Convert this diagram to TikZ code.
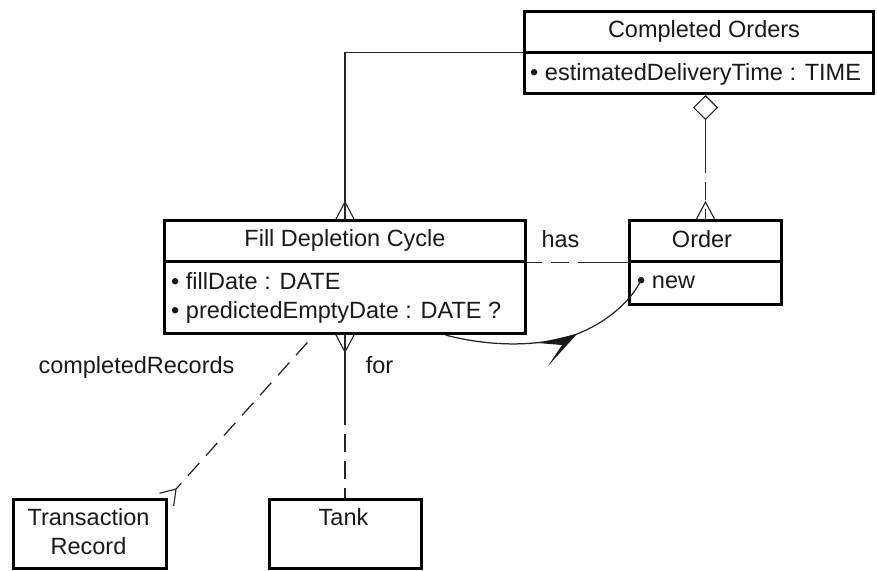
\documentclass[tikz,border=0pt]{standalone}
\usepackage{fontspec}
\setmainfont{Liberation Sans}
\usetikzlibrary{calc,shapes.geometric}
\begin{document}
\begin{tikzpicture}[x=1pt,y=-1pt,
  box/.style={draw=black, line width=3pt, fill=white, inner sep=0pt, anchor=north west},
  rule/.style={line width=3pt, draw=black},
  txt/.style={font=\fontsize{23.5}{29}\selectfont, inner sep=0pt, text=black!90},
  conn/.style={line width=1.25pt, draw=black!85},
  dashpart/.style={conn, dash pattern=on 18pt off 9pt, dash phase=18pt},
  foot/.style={line width=1.15pt, draw=black!85},
  crowfoot/.pic={\draw[foot] (-9,0) -- (0,-17) -- (9,0);},
]
\useasboundingbox (0,0) rectangle (877,570);

% class boxes
\node[box, minimum width=349pt, minimum height=82pt] (co) at (523,10) {};
\node[box, minimum width=361pt, minimum height=113pt] (fdc) at (163,219) {};
\node[box, minimum width=152pt, minimum height=84pt] (ord) at (628,219) {};
\node[box, minimum width=153pt, minimum height=69pt] (trans) at (12,498) {};
\node[box, minimum width=152pt, minimum height=69pt] (tank) at (267.5,498) {};

% compartment rules
\draw[rule] ($(co.north west)+(0,42)$) -- ($(co.north east)+(0,42)$);
\draw[rule] ($(fdc.north west)+(0,42)$) -- ($(fdc.north east)+(0,42)$);
\draw[rule] ($(ord.north west)+(0,42)$) -- ($(ord.north east)+(0,42)$);

% box texts
\node[txt, anchor=base] (coT) at (704,37) {Completed Orders};
\node[txt, anchor=base west] (coA) at (530,80) {• estimatedDeliveryTime : TIME};
\node[txt, anchor=base] (fdcT) at (345,246) {Fill Depletion Cycle};
\node[txt, anchor=base west] (fdcA) at (171,289) {• fillDate : DATE};
\node[txt, anchor=base west] (fdcB) at (171,318) {• predictedEmptyDate : DATE ?};
\node[txt, anchor=base] (ordT) at (702,247) {Order};
\node[txt, anchor=base west] (newA) at (637,288) {• new};
\node[txt, anchor=base, align=center] (transT) at (88.5,554) {Transaction\\Record};
\node[txt, anchor=base] (tankT) at (343.5,525) {Tank};

% Completed Orders -- Fill Depletion Cycle
\draw[conn] (co.west) -| (fdc.north);
\pic at (fdc.north) {crowfoot};

% aggregation: Completed Orders -- Order
\node[draw=black!85, line width=1.15pt, diamond, fill=white, minimum width=24pt,
      minimum height=24pt, inner sep=0pt, anchor=north] (agg) at (ord.north |- co.south) {};
\coordinate (m1) at ($(agg.south)!0.534!(ord.north)$);
\draw[conn] (agg.south) -- (m1);
\draw[dashpart] (m1) -- (ord.north);
\pic at (ord.north) {crowfoot};

% has
\coordinate (m2) at ($(ord.west)!0.5!(ord.west -| fdc.east)$);
\draw[conn] (ord.west) -- (m2);
\draw[dashpart] (m2) -- (ord.west -| fdc.east);
\node[txt, anchor=base] (hasL) at (560.5,247) {has};

% for
\coordinate (m3) at ($(fdc.south)!0.55!(tank.north)$);
\draw[conn] (fdc.south) -- (m3);
\draw[dashpart] (m3) -- (tank.north);
\pic[yscale=-1] at (fdc.south) {crowfoot};
\node[txt, anchor=base] (forL) at (379.5,373) {for};

% completedRecords, open head at the Transaction Record corner
\coordinate (cr) at ($(fdc.south west)!0.415!(fdc.south east)$);
\coordinate (crv) at ($(trans.north east)!12pt!(cr)$);
\draw[conn, dash pattern=on 17pt off 10pt, dash phase=17pt] (cr) -- (crv);
\draw[foot] ($(crv)!17pt!34:(trans.north east)$) -- (crv)
            -- ($(crv)!17pt!-34:(trans.north east)$);
\node[txt, anchor=base] (crL) at (136.5,373) {completedRecords};

% transition arrow to "new"
\coordinate (s) at ($(fdc.south west)!0.776!(fdc.south east)$);
\coordinate (bul) at ($(newA.base west)+(4,-8)$);
\coordinate (tip) at (577,334);
\draw[conn] (s) .. controls +(37,10) and +(-42,15) .. (tip)
               .. controls +(33,-13) and +(-8,18) .. (bul);
\fill[black!90] (tip) -- ++(-39,9) -- ++(24,2) -- ++(-14,21) -- cycle;
\end{tikzpicture}
\end{document}
